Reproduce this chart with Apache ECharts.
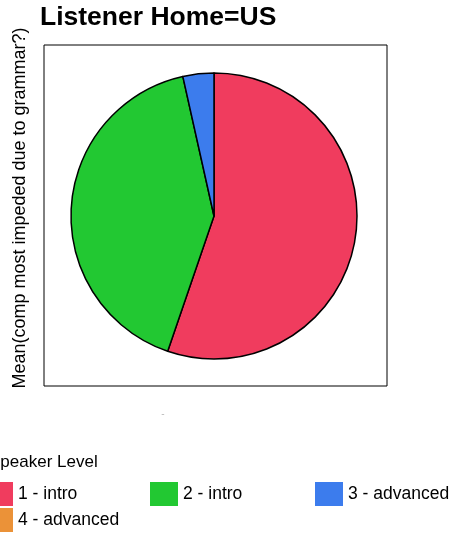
<!DOCTYPE html>
<html>
<head>
<meta charset="utf-8">
<script src="https://cdn.jsdelivr.net/npm/echarts@6/dist/echarts.min.js"></script>
<style>
  html, body { margin: 0; padding: 0; background: #fff; }
  #chart { width: 456px; height: 535px; }
</style>
</head>
<body>
<div id="chart"></div>
<script>
// speaker levels and the mean value shown by each slice
const levels = ["1 - intro", "2 - intro", "3 - advanced", "4 - advanced"];
const means = [2.21, 1.65, 0.14, 0];
const colors = ["#f03c5e", "#22c832", "#3c7ced", "#eb9238"];

const font = "'Liberation Sans', Arial, sans-serif";

const chart = echarts.init(document.getElementById("chart"));

const pieData = levels.map((name, i) => ({
  name: name,
  value: means[i],
  itemStyle: { color: colors[i], borderWidth: means[i] === 0 ? 0 : 1.5 },
}));

// one legend per entry so the columns sit on a fixed 165px step
const legends = levels.map((name, i) => ({
  left: -15 + (i % 3) * 165,
  top: 482 + Math.floor(i / 3) * 26,
  padding: 0,
  itemWidth: 28,
  itemHeight: 24,
  itemGap: 0,
  icon: "rect",
  itemStyle: { borderWidth: 0 },
  data: [name],
  textStyle: { fontFamily: font, fontSize: 17.5, color: "#000" },
}));

const option = {
  animation: false,
  backgroundColor: "#fff",
  title: [
    {
      text: "Listener Home=US",
      left: 40,
      top: 4,
      padding: 0,
      textStyle: { fontFamily: font, fontSize: 26.5, fontWeight: "bold", color: "#000" },
    },
    {
      text: "Speaker Level",
      left: -11,
      top: 454,
      padding: 0,
      textStyle: { fontFamily: font, fontSize: 17, fontWeight: "normal", color: "#000" },
    },
  ],
  grid: {
    left: 44,
    top: 45,
    width: 343,
    height: 341,
    show: true,
    borderColor: "#000",
    borderWidth: 1,
  },
  xAxis: { type: "value", show: false },
  yAxis: { type: "value", show: false },
  legend: legends,
  graphic: [
    {
      type: "text",
      x: 20.5,
      y: 208,
      rotation: Math.PI / 2,
      style: {
        text: "Mean(comp most impeded due to grammar?)",
        font: "18px " + font,
        fill: "#000",
        align: "center",
        verticalAlign: "middle",
      },
    },
    {
      type: "text",
      x: 163,
      y: 414,
      style: {
        text: "-",
        font: "10px " + font,
        fill: "#bbb",
        align: "center",
        verticalAlign: "middle",
      },
    },
  ],
  series: [
    {
      type: "pie",
      center: [214, 216],
      radius: 143,
      startAngle: 90,
      clockwise: true,
      label: { show: false },
      labelLine: { show: false },
      emphasis: { disabled: true },
      itemStyle: { borderColor: "#000", borderWidth: 1.5 },
      data: pieData,
    },
  ],
};

chart.setOption(option);
</script>
</body>
</html>
